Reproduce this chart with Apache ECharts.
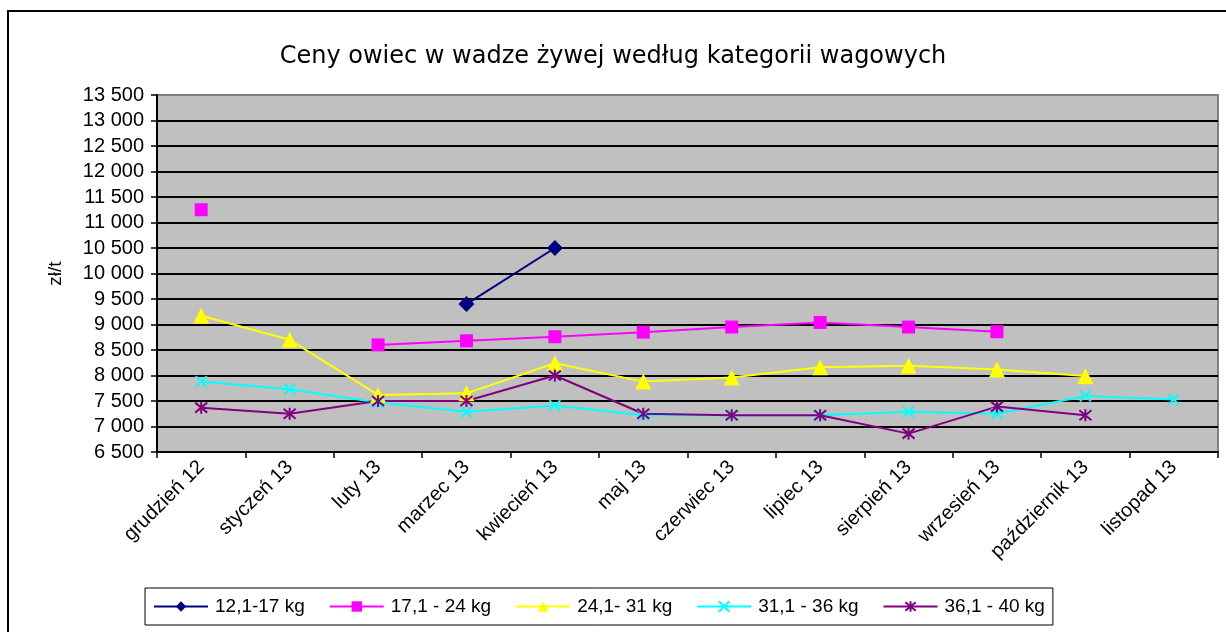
<!DOCTYPE html>
<html>
<head>
<meta charset="utf-8">
<script src="https://cdn.jsdelivr.net/npm/echarts@6/dist/echarts.min.js"></script>
<style>
  html, body { margin: 0; padding: 0; background: #fff; }
  #chart { width: 1226px; height: 632px; }
</style>
</head>
<body>
<div id="chart"></div>
<script>
// miesiące
const months = ['grudzień 12', 'styczeń 13', 'luty 13', 'marzec 13', 'kwiecień 13', 'maj 13',
  'czerwiec 13', 'lipiec 13', 'sierpień 13', 'wrzesień 13', 'październik 13', 'listopad 13']

// ceny zł/t wg kategorii wagowych (null = brak notowania)
const kg12_17 = [null, null, null, 9400, 10500, null, null, null, null, null, null, null]
const kg17_24 = [11250, null, 8600, 8680, 8760, 8850, 8950, 9040, 8950, 8860, null, null]
const kg24_31 = [9170, 8700, 7620, 7650, 8240, 7880, 7960, 8160, 8190, 8120, 7990, null]
const kg31_36 = [7880, 7730, 7470, 7290, 7410, 7220, 7220, 7220, 7290, 7250, 7600, 7530]
const kg36_40 = [7370, 7250, 7500, 7500, 8000, 7250, 7220, 7220, 6860, 7390, 7220, null]

const seriesNames = ['12,1-17 kg', '17,1 - 24 kg', '24,1- 31 kg', '31,1 - 36 kg', '36,1 - 40 kg']

const chart = echarts.init(document.getElementById('chart'))

const fmt = (v) => String(v).replace(/\B(?=(\d{3})+(?!\d))/g, ' ')

const X_PATH = 'path://M0,0L10,10M10,0L0,10'
const STAR_PATH = 'path://M0,0L10,10M10,0L0,10M5,-1L5,11'

const mkLine = (name, data, color, symbol, size, stroke) => ({
  name,
  type: 'line',
  data,
  symbol,
  symbolSize: size,
  showSymbol: true,
  connectNulls: false,
  lineStyle: {color, width: 2},
  itemStyle: stroke
    ? {color, borderColor: color, borderWidth: 2}
    : {color, borderWidth: 0},
  emphasis: {disabled: true},
  z: 3
})

// siatka: ostatnia linia (13 500) szara jak ramka wykresu
const gridColors = []
for (let i = 0; i < 15; i++) gridColors.push(i === 14 ? '#808080' : '#000')

const option = {
  animation: false,
  title: {
    text: 'Ceny owiec w wadze żywej według kategorii wagowych',
    left: 'center',
    top: 40,
    textStyle: {
      fontFamily: 'DejaVu Sans',
      fontWeight: 'normal',
      fontSize: 24,
      color: '#000'
    }
  },
  graphic: [{
    type: 'rect',
    shape: {x: 8, y: 11, width: 1240, height: 660},
    style: {fill: 'none', stroke: '#000', lineWidth: 2},
    silent: true
  }],
  legend: {
    data: seriesNames,
    left: 145,
    top: 588,
    orient: 'horizontal',
    padding: [9, 8, 9, 8],
    itemGap: 24,
    itemWidth: 54,
    itemHeight: 13,
    borderColor: '#000',
    borderWidth: 1,
    textStyle: {fontFamily: 'Liberation Sans', fontSize: 19, color: '#000', padding: [0, 0, 0, 2]}
  },
  grid: {
    left: 157,
    right: 8,
    top: 95,
    bottom: 180,
    show: true,
    backgroundColor: '#C0C0C0',
    borderColor: '#808080',
    borderWidth: 2
  },
  xAxis: {
    type: 'category',
    data: months,
    boundaryGap: true,
    axisLine: {lineStyle: {color: '#000', width: 2}},
    axisTick: {show: true, length: 6, lineStyle: {color: '#000', width: 1.5}},
    axisLabel: {
      rotate: 45,
      interval: 0,
      margin: 12,
      fontFamily: 'Liberation Sans',
      fontSize: 20,
      color: '#000'
    }
  },
  yAxis: {
    type: 'value',
    min: 6500,
    max: 13500,
    interval: 500,
    name: 'zł/t',
    nameLocation: 'middle',
    nameGap: 92,
    nameRotate: 90,
    nameTextStyle: {fontFamily: 'Liberation Sans', fontSize: 19, color: '#000'},
    axisLine: {show: true, lineStyle: {color: '#000', width: 2}},
    axisTick: {show: true, length: 6, lineStyle: {color: '#000', width: 1.5}},
    axisLabel: {
      formatter: fmt,
      margin: 13,
      fontFamily: 'Liberation Sans',
      fontSize: 20,
      color: '#000'
    },
    splitLine: {show: true, lineStyle: {color: gridColors, width: 2}}
  },
  series: [
    mkLine(seriesNames[0], kg12_17, '#000080', 'diamond', 16, false),
    mkLine(seriesNames[1], kg17_24, '#FF00FF', 'rect', 13, false),
    mkLine(seriesNames[2], kg24_31, '#FFFF00', 'triangle', 16, false),
    mkLine(seriesNames[3], kg31_36, '#00FFFF', X_PATH, 11, true),
    mkLine(seriesNames[4], kg36_40, '#800080', STAR_PATH, 12, true)
  ]
}

chart.setOption(option)
</script>
</body>
</html>
